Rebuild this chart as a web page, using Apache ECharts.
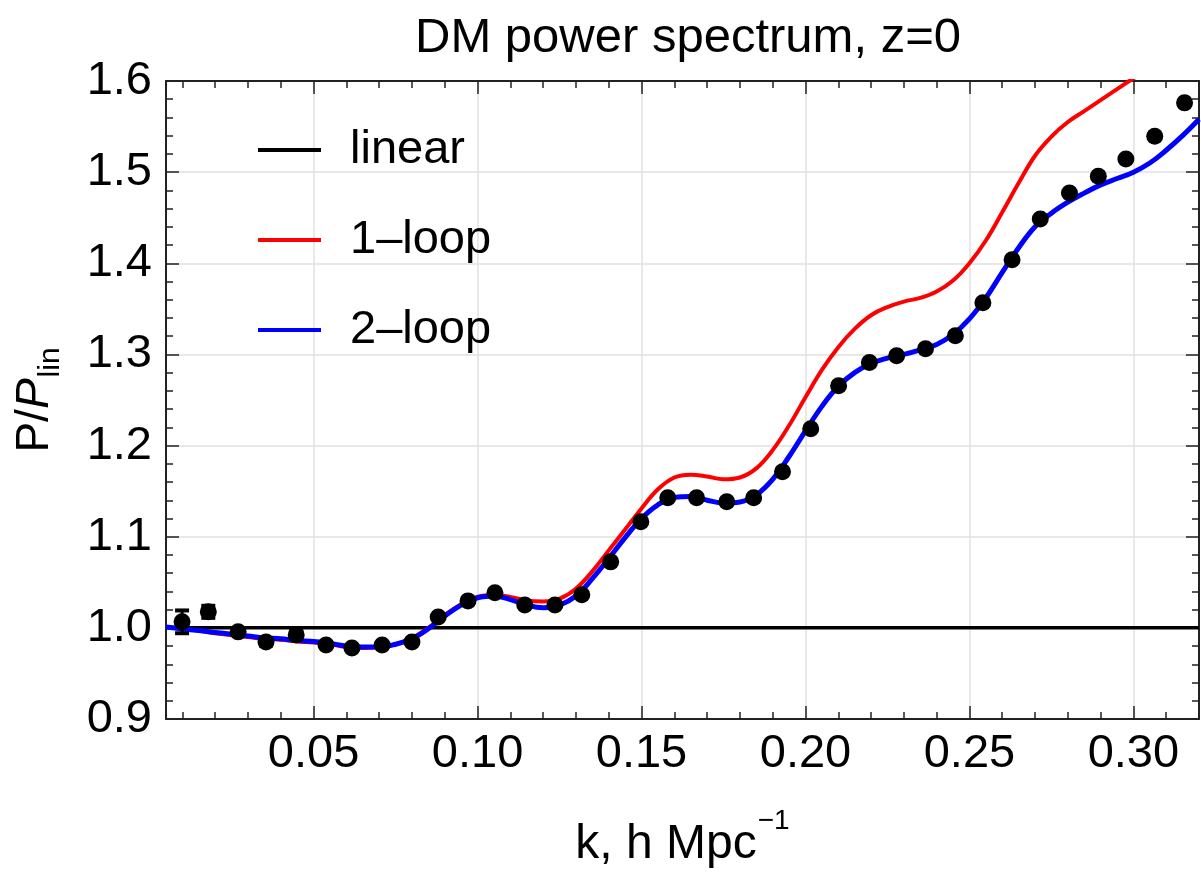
<!DOCTYPE html>
<html>
<head>
<meta charset="utf-8">
<script src="https://cdn.jsdelivr.net/npm/echarts@6/dist/echarts.min.js"></script>
<style>
html,body{margin:0;padding:0;background:#fff;}
#chart{width:1201px;height:874px;}
</style>
</head>
<body>
<div id="chart"></div>
<script>
// ---- data ----
const kPoints = [0.0099, 0.0179, 0.0270, 0.0355, 0.0447, 0.0538, 0.0617, 0.0709, 0.0800, 0.0880,
  0.0971, 0.1053, 0.1144, 0.1236, 0.1318, 0.1406, 0.1498, 0.1580, 0.1668, 0.1760,
  0.1842, 0.1930, 0.2016, 0.2101, 0.2195, 0.2278, 0.2366, 0.2457, 0.2541, 0.2630,
  0.2716, 0.2805, 0.2893, 0.2977, 0.3065, 0.3156];
const ratioPoints = [1.0066, 1.0176, 0.9956, 0.9846, 0.9923, 0.9813, 0.9780, 0.9813, 0.9846, 1.0120,
  1.0296, 1.0384, 1.0252, 1.0252, 1.0362, 1.0724, 1.1164, 1.1427, 1.1427, 1.1383,
  1.1427, 1.1712, 1.2184, 1.2656, 1.2912, 1.2986, 1.3063, 1.3205, 1.3568, 1.4040,
  1.4486, 1.4772, 1.4954, 1.5145, 1.5393, 1.5760];
const ratioErrors = [0.0125, 0.0066, 0.003, 0.004, 0.004, 0, 0, 0, 0, 0,
  0, 0, 0, 0, 0, 0, 0, 0, 0, 0, 0, 0, 0, 0, 0, 0, 0, 0, 0, 0, 0, 0, 0, 0, 0, 0];

const kCurve = [0.005, 0.010, 0.015, 0.020, 0.025, 0.030, 0.035, 0.040, 0.045, 0.050,
  0.055, 0.060, 0.065, 0.070, 0.075, 0.080, 0.085, 0.090, 0.095, 0.100,
  0.105, 0.110, 0.115, 0.120, 0.125, 0.130, 0.135, 0.140, 0.145, 0.150,
  0.155, 0.160, 0.165, 0.170, 0.175, 0.180, 0.185, 0.190, 0.195, 0.200,
  0.205, 0.210, 0.215, 0.220, 0.225, 0.230, 0.235, 0.240, 0.245, 0.250,
  0.255, 0.260, 0.265, 0.270, 0.275, 0.280, 0.285, 0.290, 0.295, 0.300,
  0.305, 0.310, 0.315, 0.320];
const oneLoop = [1.001, 0.999, 0.997, 0.994, 0.992, 0.990, 0.988, 0.987, 0.985, 0.984,
  0.982, 0.979, 0.978, 0.979, 0.982, 0.989, 1.000, 1.014, 1.026, 1.034,
  1.036, 1.034, 1.030, 1.029, 1.032, 1.043, 1.062, 1.085, 1.108, 1.131,
  1.152, 1.165, 1.168, 1.166, 1.163, 1.165, 1.175, 1.195, 1.222, 1.253,
  1.283, 1.308, 1.328, 1.343, 1.352, 1.358, 1.362, 1.369, 1.381, 1.400,
  1.425, 1.456, 1.488, 1.518, 1.539, 1.555, 1.567, 1.579, 1.591, 1.603,
  1.614, null, null, null];
const twoLoop = [1.001, 0.999, 0.997, 0.995, 0.993, 0.991, 0.989, 0.988, 0.986, 0.985,
  0.983, 0.980, 0.979, 0.979, 0.982, 0.988, 0.999, 1.013, 1.025, 1.033,
  1.035, 1.031, 1.025, 1.022, 1.025, 1.035, 1.054, 1.076, 1.099, 1.120,
  1.135, 1.143, 1.144, 1.140, 1.137, 1.138, 1.146, 1.163, 1.188, 1.216,
  1.243, 1.265, 1.280, 1.290, 1.296, 1.300, 1.305, 1.311, 1.322, 1.339,
  1.362, 1.390, 1.417, 1.440, 1.455, 1.467, 1.477, 1.486, 1.493, 1.500,
  1.510, 1.524, 1.540, 1.558];
const linearK = [0.005, 0.32];
const linearRatio = [1.0, 1.0];

const xMajorTicks = [0.05, 0.10, 0.15, 0.20, 0.25, 0.30];
const xMinorTicks = [0.01, 0.02, 0.03, 0.04, 0.06, 0.07, 0.08, 0.09, 0.11, 0.12, 0.13, 0.14,
  0.16, 0.17, 0.18, 0.19, 0.21, 0.22, 0.23, 0.24, 0.26, 0.27, 0.28, 0.29, 0.31, 0.32];
const seriesNames = ['linear', '1\u2013loop', '2\u2013loop'];

// ---- chart ----
const FONT = '"Liberation Sans", Arial, Helvetica, sans-serif';
const AX = '#222';
const GRIDC = '#e0e0e0';
const zip = (a, b) => a.map((v, i) => [v, b[i]]);

const chart = echarts.init(document.getElementById('chart'), null, {renderer: 'canvas'});

function xAxisDef(pos, ticks, len, major) {
  return {
    type: 'value', min: 0.005, max: 0.32, position: pos,
    axisLine: {show: major, onZero: false, lineStyle: {color: AX, width: 2}},
    axisTick: {show: true, inside: true, length: len, customValues: ticks, lineStyle: {color: AX, width: 1.5}},
    axisLabel: (pos === 'bottom' && major) ? {
      show: true, customValues: ticks, fontSize: 47, fontFamily: FONT, color: '#000', margin: 12,
      formatter: v => v.toFixed(2)
    } : {show: false},
    splitLine: (pos === 'bottom' && major) ? {show: true, lineStyle: {color: GRIDC, width: 1.5}} : {show: false},
    minorTick: {show: false}
  };
}

const xAxes = [
  xAxisDef('bottom', xMajorTicks, 13, true),
  xAxisDef('bottom', xMinorTicks, 7, false),
  xAxisDef('top', xMajorTicks, 13, true),
  xAxisDef('top', xMinorTicks, 7, false)
];
xAxes[0].name = '{n|k, h Mpc}{s|\u22121}';
xAxes[0].nameLocation = 'middle';
xAxes[0].nameGap = 88;
xAxes[0].nameTextStyle = {
  fontFamily: FONT, color: '#000',
  rich: {
    n: {fontSize: 48, fontFamily: FONT, color: '#000', lineHeight: 62, verticalAlign: 'bottom'},
    s: {fontSize: 28, fontFamily: FONT, color: '#000', lineHeight: 28, verticalAlign: 'top', padding: [0, 0, 0, 1]}
  }
};

function yAxisDef(pos) {
  const left = pos === 'left';
  return {
    type: 'value', min: 0.9, max: 1.6, interval: 0.1, position: pos,
    axisLine: {show: true, onZero: false, lineStyle: {color: AX, width: 2}},
    axisTick: {show: true, inside: true, length: 13, lineStyle: {color: AX, width: 1.5}},
    minorTick: {show: true, splitNumber: 5, length: 7, lineStyle: {color: AX, width: 1.5}},
    axisLabel: left ? {show: true, fontSize: 47, fontFamily: FONT, color: '#000', margin: 14,
      formatter: v => v.toFixed(1)} : {show: false},
    splitLine: left ? {show: true, lineStyle: {color: GRIDC, width: 1.5}} : {show: false}
  };
}
const yAxes = [yAxisDef('left'), yAxisDef('right')];
yAxes[0].name = '{a|P/}{i|P}{s|lin}';
yAxes[0].nameLocation = 'middle';
yAxes[0].nameRotate = 90;
yAxes[0].nameGap = 100;
yAxes[0].nameTextStyle = {
  fontFamily: FONT, color: '#000',
  rich: {
    a: {fontSize: 46, fontFamily: FONT, color: '#000', lineHeight: 54, verticalAlign: 'top'},
    i: {fontSize: 46, fontFamily: FONT, color: '#000', fontStyle: 'italic', lineHeight: 54, verticalAlign: 'top'},
    s: {fontSize: 30, fontFamily: FONT, color: '#000', lineHeight: 30, verticalAlign: 'bottom', padding: [28, 0, 0, 1]}
  }
};

const errData = kPoints.map((k, i) => [k, ratioPoints[i] - ratioErrors[i], ratioPoints[i] + ratioErrors[i]])
  .filter((d, i) => ratioErrors[i] > 0);

const option = {
  backgroundColor: '#fff',
  animation: false,
  title: {
    text: 'DM power spectrum, z=0', left: 683, top: 9, textAlign: 'center',
    textStyle: {fontSize: 49, fontWeight: 'normal', fontFamily: FONT, color: '#000'}
  },
  grid: {left: 166, right: 2, top: 81, bottom: 155, containLabel: false, outerBoundsMode: 'none'},
  legend: {
    data: seriesNames.map(n => ({name: n, icon: 'rect'})),
    orient: 'vertical', left: 253, top: 120, itemWidth: 63, itemHeight: 4, itemGap: 40,
    textStyle: {fontSize: 47, fontFamily: FONT, color: '#000', lineHeight: 50, padding: [0, 0, 0, 24]}
  },
  xAxis: xAxes,
  yAxis: yAxes,
  series: [
    {name: seriesNames[0], type: 'line', data: zip(linearK, linearRatio), showSymbol: false,
      lineStyle: {color: '#000', width: 3.5}, itemStyle: {color: '#000'}, z: 2},
    {name: seriesNames[1], type: 'line', data: zip(kCurve, oneLoop), showSymbol: false, smooth: 0.4,
      connectNulls: false, lineStyle: {color: '#ff0000', width: 4}, itemStyle: {color: '#ff0000'}, z: 3},
    {name: seriesNames[2], type: 'line', data: zip(kCurve, twoLoop), showSymbol: false, smooth: 0.4,
      lineStyle: {color: '#0000ff', width: 5}, itemStyle: {color: '#0000ff'}, z: 4},
    {name: 'simulation', type: 'scatter', data: zip(kPoints, ratioPoints), symbol: 'circle', symbolSize: 17,
      itemStyle: {color: '#000', opacity: 1}, z: 6},
    {name: 'errors', type: 'custom', data: errData, encode: {x: 0, y: [1, 2]}, z: 7,
      renderItem: function (params, api) {
        const x = api.value(0);
        const p1 = api.coord([x, api.value(1)]);
        const p2 = api.coord([x, api.value(2)]);
        const w = 7;
        return {type: 'group', children: [
          {type: 'line', shape: {x1: p1[0], y1: p1[1], x2: p2[0], y2: p2[1]}, style: {stroke: '#000', lineWidth: 3}},
          {type: 'line', shape: {x1: p1[0] - w, y1: p1[1], x2: p1[0] + w, y2: p1[1]}, style: {stroke: '#000', lineWidth: 4}},
          {type: 'line', shape: {x1: p2[0] - w, y1: p2[1], x2: p2[0] + w, y2: p2[1]}, style: {stroke: '#000', lineWidth: 4}}
        ]};
      }
    }
  ]
};
chart.setOption(option);
</script>
</body>
</html>
